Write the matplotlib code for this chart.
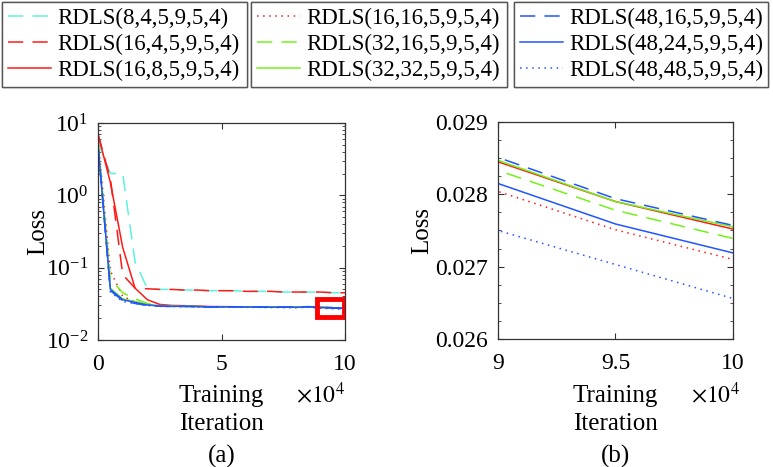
import matplotlib
matplotlib.use("Agg")
import matplotlib.pyplot as plt
from matplotlib.patches import Rectangle
from matplotlib.ticker import MultipleLocator, LogLocator, NullFormatter

plt.rcParams['font.family'] = ['Liberation Serif', 'DejaVu Serif']
plt.rcParams['mathtext.fontset'] = 'stix'

# iterations in units of 1e4
iters = [0, 0.5, 1, 1.5, 2, 2.5, 3, 3.5, 4, 4.5, 5, 5.5, 6, 6.5, 7, 7.5, 8, 8.5, 9, 9.5, 10]

loss_8_4 = [5.5, 2.0, 2.0, 0.12, 0.051, 0.050, 0.050, 0.049, 0.049, 0.048, 0.048,
            0.048, 0.047, 0.047, 0.047, 0.046, 0.046, 0.046, 0.046, 0.045, 0.045]
loss_16_4 = [7.0, 1.7, 0.08, 0.052, 0.051, 0.050, 0.050, 0.049, 0.049, 0.048, 0.048,
             0.048, 0.047, 0.047, 0.047, 0.046, 0.046, 0.046, 0.046, 0.045, 0.045]
loss_16_8 = [7.0, 1.5, 0.19, 0.052, 0.036, 0.031, 0.030, 0.0298, 0.0295, 0.029, 0.0289,
             0.0288, 0.0287, 0.0287, 0.0286, 0.0286, 0.0285, 0.0287, 0.02845, 0.0279, 0.02752]
loss_16_16 = [6.0, 0.09, 0.040, 0.034, 0.031, 0.0297, 0.0292, 0.0291, 0.0289, 0.0284, 0.0286,
              0.0285, 0.0284, 0.0284, 0.0283, 0.0283, 0.0282, 0.0285, 0.02804, 0.02751, 0.0271]
loss_32_16 = [5.5, 0.07, 0.045, 0.037, 0.032, 0.030, 0.0293, 0.0292, 0.029, 0.0285, 0.0287,
              0.0287, 0.0286, 0.0286, 0.0285, 0.0285, 0.0284, 0.0287, 0.02833, 0.02778, 0.02739]
loss_32_32 = [5.2, 0.052, 0.037, 0.034, 0.031, 0.0296, 0.0292, 0.0292, 0.029, 0.0286, 0.0288,
              0.0288, 0.0287, 0.0287, 0.0286, 0.0286, 0.0285, 0.0289, 0.02847, 0.0279, 0.02755]
loss_48_16 = [5.0, 0.048, 0.035, 0.032, 0.030, 0.0293, 0.029, 0.0291, 0.029, 0.0285, 0.0288,
              0.0288, 0.0287, 0.0287, 0.0286, 0.0286, 0.0285, 0.0289, 0.02851, 0.02794, 0.02757]
loss_48_24 = [5.0, 0.050, 0.036, 0.033, 0.0305, 0.0295, 0.0292, 0.0292, 0.029, 0.0285, 0.0287,
              0.0287, 0.0286, 0.0285, 0.0284, 0.0284, 0.0283, 0.0287, 0.02815, 0.02759, 0.02719]
loss_48_48 = [5.0, 0.046, 0.034, 0.032, 0.030, 0.0292, 0.029, 0.029, 0.0288, 0.0283, 0.0285,
              0.0284, 0.0283, 0.0282, 0.0281, 0.028, 0.0279, 0.0283, 0.0275, 0.02703, 0.02656]

cyan = '#5CF2DC'
red = '#FF1A1A'
green = '#73F21A'
blue = '#2255FF'

dash = (0, (10, 6))
dot = (0, (1, 3))
series = [
    ("RDLS(8,4,5,9,5,4)", loss_8_4, cyan, dash),
    ("RDLS(16,4,5,9,5,4)", loss_16_4, red, dash),
    ("RDLS(16,8,5,9,5,4)", loss_16_8, red, '-'),
    ("RDLS(16,16,5,9,5,4)", loss_16_16, red, dot),
    ("RDLS(32,16,5,9,5,4)", loss_32_16, green, dash),
    ("RDLS(32,32,5,9,5,4)", loss_32_32, green, '-'),
    ("RDLS(48,16,5,9,5,4)", loss_48_16, blue, dash),
    ("RDLS(48,24,5,9,5,4)", loss_48_24, blue, '-'),
    ("RDLS(48,48,5,9,5,4)", loss_48_48, blue, dot),
]

fs = 17
fig = plt.figure(figsize=(7.73, 4.67), dpi=100)
ax1 = fig.add_axes([0.1268, 0.272, 0.3195, 0.4647])
ax2 = fig.add_axes([0.6442, 0.2741, 0.304, 0.4647])

handles = []
for name, vals, col, ls in series:
    h, = ax1.plot(iters, vals, color=col, ls=ls, lw=1.1, label=name)
    ax2.plot(iters, vals, color=col, ls=ls, lw=1.1)
    handles.append(h)

ax1.set_yscale('log')
ax1.set_xlim(0, 10)
ax1.set_ylim(1e-2, 1e1)
ax1.set_xticks([0, 5, 10])
ax1.set_xticklabels(['0', '5', '10'])
ax1.yaxis.set_major_locator(LogLocator(base=10, numticks=10))
ax1.yaxis.set_minor_locator(LogLocator(base=10, subs=range(2, 10), numticks=20))
ax1.yaxis.set_minor_formatter(NullFormatter())
ax1.add_patch(Rectangle((8.85, 0.021), 1.1, 0.016, fill=False, ec='#FF0000', lw=3.5, zorder=5))

ax2.set_xlim(9, 10)
ax2.set_ylim(0.026, 0.029)
ax2.set_xticks([9, 9.5, 10])
ax2.set_xticklabels(['9', '9.5', '10'])
ax2.set_yticks([0.026, 0.027, 0.028, 0.029])
ax2.set_yticklabels(['0.026', '0.027', '0.028', '0.029'])
ax2.yaxis.set_minor_locator(MultipleLocator(0.00025))

for ax in (ax1, ax2):
    ax.tick_params(which='both', direction='in', top=True, right=True,
                   labelsize=fs, color='#333333', pad=7)
    ax.tick_params(axis='x', which='major', pad=10)
    ax.tick_params(which='major', length=4)
    ax.tick_params(which='minor', length=2.2)
    for sp in ax.spines.values():
        sp.set_color('#333333')
        sp.set_linewidth(0.9)
    ax.set_ylabel('Loss', fontsize=fs + 1)

ax1.yaxis.set_label_coords(-0.196, 0.5)
ax2.yaxis.set_label_coords(-0.276, 0.5)

# x labels, exponent, panel tags
for cx, rx, tag in [(0.2865, 0.414, '(a)'), (0.796, 0.926, '(b)')]:
    fig.text(cx, 1 - 410 / 467, 'Training\nIteration', ha='center', va='center',
             fontsize=fs + 1, linespacing=1.35)
    fig.text(rx, 1 - 395 / 467, r'$\times10^4$', ha='center', va='center', fontsize=fs)
    fig.text(cx, 1 - 456 / 467, tag, ha='center', va='center', fontsize=fs + 1)

# three legend boxes across the top
boxes = [(2, 245), (251, 256), (514, 254)]
for k, (x0, w) in enumerate(boxes):
    leg = fig.legend(handles=handles[3 * k:3 * k + 3], loc='upper left',
                     bbox_to_anchor=(x0 / 773, 1 - 2 / 467, w / 773, 0.0),
                     mode='expand', borderaxespad=0, fontsize=16.5,
                     handlelength=1.9, handletextpad=0.25, labelspacing=0.22,
                     borderpad=0.25, fancybox=False, framealpha=1)
    leg.get_frame().set_edgecolor('#555555')
    leg.get_frame().set_linewidth(1.0)
    fig.add_artist(leg)

fig.savefig('out.png', dpi=100)
